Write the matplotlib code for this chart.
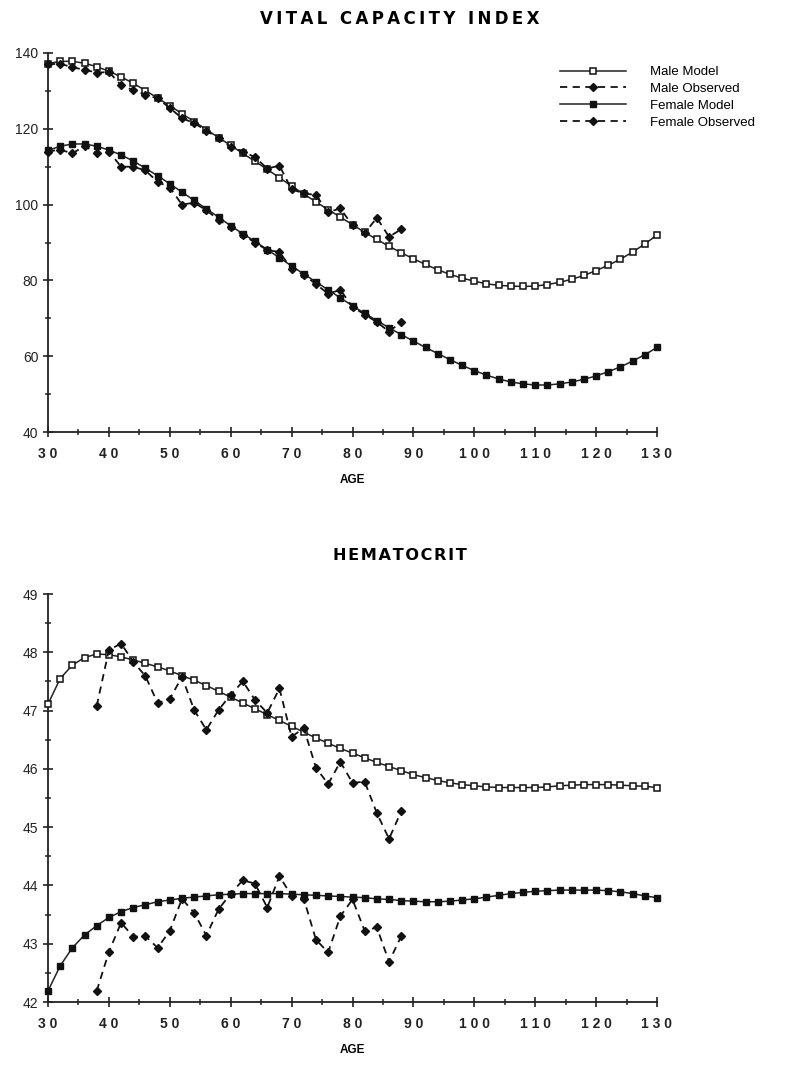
import matplotlib.pyplot as plt
from matplotlib.ticker import FixedLocator, MultipleLocator

plt.rcParams['font.family'] = ['Liberation Sans', 'DejaVu Sans']

# ages (every 2 years)
model_ages = list(range(30, 131, 2))
vc_obs_ages = list(range(30, 89, 2))
hct_obs_ages = list(range(38, 89, 2))

# Vital capacity index
vc_male_model = [137.2, 137.8, 137.8, 137.3, 136.4, 135.2, 133.7, 132.0, 130.1, 128.1,
                 126.1, 124.0, 121.9, 119.8, 117.7, 115.6, 113.5, 111.4, 109.3, 107.1,
                 104.9, 102.8, 100.7, 98.7, 96.7, 94.7, 92.7, 90.8, 89.0, 87.3,
                 85.7, 84.2, 82.8, 81.6, 80.6, 79.8, 79.1, 78.7, 78.5, 78.4,
                 78.5, 78.9, 79.5, 80.3, 81.3, 82.6, 84.0, 85.6, 87.5, 89.6, 92.0]
vc_male_obs = [137.0, 137.2, 136.2, 135.6, 134.8, 135.0, 131.5, 130.2, 129.0, 128.0,
               125.5, 122.8, 121.5, 119.5, 117.5, 115.2, 114.0, 112.5, 109.5, 110.3,
               104.0, 103.0, 102.5, 98.0, 99.0, 94.5, 92.5, 96.5, 91.5, 93.5]
vc_female_model = [114.3, 115.4, 116.0, 116.0, 115.4, 114.4, 113.1, 111.5, 109.6, 107.6,
                   105.5, 103.3, 101.1, 98.9, 96.7, 94.4, 92.3, 90.3, 88.1, 86.0,
                   83.8, 81.7, 79.6, 77.5, 75.4, 73.3, 71.3, 69.4, 67.5, 65.7,
                   64.0, 62.3, 60.7, 59.1, 57.6, 56.2, 55.0, 54.0, 53.2, 52.7,
                   52.4, 52.4, 52.7, 53.2, 53.9, 54.8, 55.9, 57.2, 58.7, 60.4, 62.3]
vc_female_obs = [114.0, 114.5, 113.5, 115.5, 113.5, 114.0, 110.0, 110.0, 109.0, 106.0,
                 104.5, 100.0, 100.5, 98.5, 96.0, 94.0, 92.0, 90.0, 88.0, 87.5,
                 83.0, 81.5, 79.0, 76.5, 77.5, 73.0, 71.0, 69.0, 66.5, 69.0]

# Hematocrit
hct_male_model = [47.11, 47.55, 47.78, 47.91, 47.97, 47.96, 47.92, 47.87, 47.81, 47.75,
                  47.68, 47.60, 47.52, 47.43, 47.33, 47.23, 47.13, 47.03, 46.93, 46.83,
                  46.73, 46.63, 46.53, 46.44, 46.35, 46.27, 46.19, 46.11, 46.04, 45.97,
                  45.90, 45.85, 45.80, 45.76, 45.73, 45.71, 45.69, 45.68, 45.68, 45.68,
                  45.68, 45.69, 45.71, 45.72, 45.73, 45.73, 45.73, 45.72, 45.71, 45.70, 45.68]
hct_male_obs = [47.08, 48.04, 48.15, 47.84, 47.59, 47.13, 47.20, 47.58, 47.01, 46.67,
                47.01, 47.27, 47.50, 47.18, 46.96, 47.38, 46.55, 46.70, 46.02, 45.74,
                46.12, 45.76, 45.78, 45.24, 44.80, 45.27]
hct_female_model = [42.19, 42.62, 42.93, 43.15, 43.31, 43.45, 43.55, 43.62, 43.67, 43.72,
                    43.75, 43.78, 43.80, 43.82, 43.84, 43.85, 43.86, 43.86, 43.86, 43.86,
                    43.85, 43.84, 43.83, 43.82, 43.81, 43.80, 43.79, 43.77, 43.76, 43.74,
                    43.73, 43.72, 43.72, 43.73, 43.75, 43.77, 43.80, 43.83, 43.86, 43.88,
                    43.90, 43.91, 43.92, 43.92, 43.92, 43.92, 43.91, 43.89, 43.86, 43.82, 43.79]
hct_female_obs = [42.19, 42.86, 43.36, 43.12, 43.13, 42.93, 43.22, 43.77, 43.53, 43.14,
                  43.59, 43.86, 44.09, 44.03, 43.62, 44.16, 43.82, 43.77, 43.07, 42.85,
                  43.47, 43.76, 43.22, 43.28, 42.69, 43.13]

x_ticks = [30, 40, 50, 60, 70, 80, 90, 100, 110, 120, 130]
x_tick_labels = ['3 0', '4 0', '5 0', '6 0', '7 0', '8 0', '9 0', '1 0 0', '1 1 0', '1 2 0', '1 3 0']

fig = plt.figure(figsize=(7.99, 10.78), dpi=100)
ax1 = fig.add_axes([48 / 799, 1 - 432 / 1078, 609 / 799, 379 / 1078])
ax2 = fig.add_axes([48 / 799, 1 - 1002 / 1078, 609 / 799, 408 / 1078])

dash = (0, (4, 3))


def draw_series(ax, male_model, male_obs, female_model, female_obs, male_obs_ages, female_obs_ages):
    h1, = ax.plot(model_ages, male_model, '-', color='#222', lw=1.1, marker='s', ms=4.5,
                  mfc='white', mec='#111', mew=1.1, clip_on=False, zorder=3, label='Male Model')
    h2, = ax.plot(male_obs_ages, male_obs, linestyle=dash, color='#111', lw=1.3, marker='D', ms=4.3,
                  mfc='#111', mec='#111', clip_on=False, zorder=4, label='Male Observed')
    h3, = ax.plot(model_ages, female_model, '-', color='#222', lw=1.1, marker='s', ms=5,
                  mfc='#111', mec='#111', clip_on=False, zorder=3, label='Female Model')
    h4, = ax.plot(female_obs_ages, female_obs, linestyle=dash, color='#111', lw=1.3, marker='D', ms=4.3,
                  mfc='#111', mec='#111', clip_on=False, zorder=4, label='Female Observed')
    return [h1, h2, h3, h4]


def style_axes(ax, ymin, ymax, ymajor, yminor):
    ax.set_xlim(30, 130)
    ax.set_ylim(ymin, ymax)
    for s in ['top', 'right']:
        ax.spines[s].set_visible(False)
    for s in ['left', 'bottom']:
        ax.spines[s].set_linewidth(1.3)
        ax.spines[s].set_color('#222')
    ax.xaxis.set_major_locator(FixedLocator(x_ticks))
    ax.set_xticklabels(x_tick_labels, fontsize=10, fontweight='bold')
    ax.xaxis.set_minor_locator(MultipleLocator(5))
    ax.yaxis.set_major_locator(MultipleLocator(ymajor))
    ax.yaxis.set_minor_locator(MultipleLocator(yminor))
    ax.tick_params(which='major', direction='inout', length=7, width=1.2, colors='#222',
                   labelsize=10)
    ax.tick_params(which='minor', direction='inout', length=5, width=1.1, colors='#222')
    ax.tick_params(axis='x', which='major', pad=7)
    ax.set_xlabel('AGE', fontsize=8.5, fontweight='bold', labelpad=10)


handles = draw_series(ax1, vc_male_model, vc_male_obs, vc_female_model, vc_female_obs,
                      vc_obs_ages, vc_obs_ages)
style_axes(ax1, 40, 140, 20, 10)

draw_series(ax2, hct_male_model, hct_male_obs, hct_female_model, hct_female_obs,
            hct_obs_ages, hct_obs_ages)
style_axes(ax2, 42, 49, 1, 0.5)

title_top = '\u2009'.join('VITAL CAPACITY INDEX')
title_bottom = '\u200a'.join('HEMATOCRIT')
fig.text(0.5, 1 - 19 / 1078, title_top, ha='center', va='center',
         fontsize=12, fontweight='bold', family='DejaVu Sans')
fig.text(0.5, 1 - 555 / 1078, title_bottom, ha='center', va='center',
         fontsize=11.6, fontweight='bold', family='DejaVu Sans')

fig.legend(handles=handles, loc='upper left', bbox_to_anchor=(560 / 799, 1 - 66 / 1078),
           frameon=False, fontsize=9.5, handlelength=5.0, handletextpad=1.8,
           labelspacing=0.35, borderpad=0, borderaxespad=0, markerscale=0.9)

plt.savefig('out.png', dpi=100)
